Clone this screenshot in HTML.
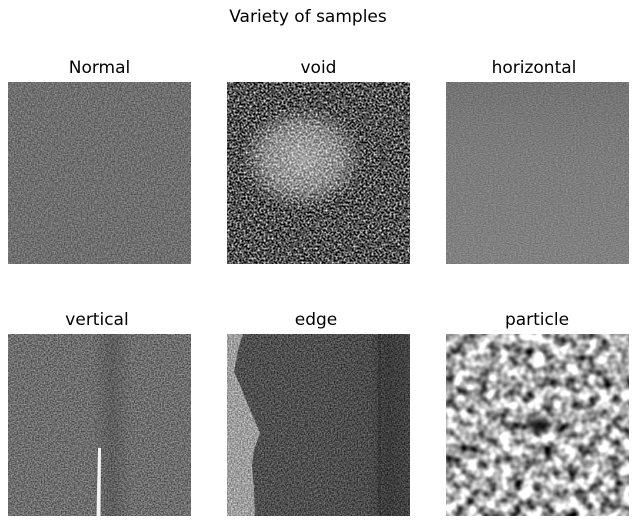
<!DOCTYPE html>
<html><head><meta charset="utf-8"><style>
html,body{margin:0;padding:0;background:#fff;}
svg{display:block;}
text{font-family:"DejaVu Sans","Liberation Sans",sans-serif;fill:#000;}
filter{color-interpolation-filters:sRGB;}
</style></head><body>
<svg width="636" height="525" viewBox="0 0 636 525">
<defs>
 <filter id="fNormal" x="0" y="0" width="100%" height="100%" color-interpolation-filters="sRGB">
  <feTurbulence type="fractalNoise" baseFrequency="0.7" numOctaves="1" seed="3"/>
  <feColorMatrix values="0.55 0 0 0 0.16  0.55 0 0 0 0.16  0.55 0 0 0 0.16  0 0 0 0 1"/>
 </filter>
 <filter id="fVoid" x="0" y="0" width="100%" height="100%" color-interpolation-filters="sRGB">
  <feTurbulence type="fractalNoise" baseFrequency="0.5" numOctaves="2" seed="7"/>
  <feColorMatrix values="2.0 0 0 0 -0.68  2.0 0 0 0 -0.68  2.0 0 0 0 -0.68  0 0 0 0 1"/>
 </filter>
 <filter id="fHoriz" x="0" y="0" width="100%" height="100%" color-interpolation-filters="sRGB">
  <feTurbulence type="fractalNoise" baseFrequency="0.6 0.9" numOctaves="1" seed="11"/>
  <feColorMatrix values="0.35 0 0 0 0.3  0.35 0 0 0 0.3  0.35 0 0 0 0.3  0 0 0 0 1"/>
 </filter>
 <filter id="fVert" x="0" y="0" width="100%" height="100%" color-interpolation-filters="sRGB">
  <feTurbulence type="fractalNoise" baseFrequency="0.7" numOctaves="1" seed="5"/>
  <feColorMatrix values="0.7 0 0 0 0.08  0.7 0 0 0 0.08  0.7 0 0 0 0.08  0 0 0 0 1"/>
 </filter>
 <filter id="fEdgeDark" x="0" y="0" width="100%" height="100%" color-interpolation-filters="sRGB">
  <feTurbulence type="fractalNoise" baseFrequency="0.7" numOctaves="1" seed="9"/>
  <feColorMatrix values="0.7 0 0 0 -0.04  0.7 0 0 0 -0.04  0.7 0 0 0 -0.04  0 0 0 0 1"/>
 </filter>
 <filter id="fEdgeLight" x="0" y="0" width="100%" height="100%" color-interpolation-filters="sRGB">
  <feTurbulence type="fractalNoise" baseFrequency="0.7" numOctaves="1" seed="13"/>
  <feColorMatrix values="0.8 0 0 0 0.22  0.8 0 0 0 0.22  0.8 0 0 0 0.22  0 0 0 0 1"/>
 </filter>
 <filter id="fPart" x="0" y="0" width="100%" height="100%" color-interpolation-filters="sRGB">
  <feTurbulence type="fractalNoise" baseFrequency="0.09" numOctaves="2" seed="21"/>
  <feColorMatrix values="1.9 0 0 0 -0.28  1.9 0 0 0 -0.28  1.9 0 0 0 -0.28  0 0 0 0 1"/>
 </filter>
 <radialGradient id="gVoid"><stop offset="0" stop-color="#fff" stop-opacity="0.5"/><stop offset="0.6" stop-color="#fff" stop-opacity="0.35"/><stop offset="1" stop-color="#fff" stop-opacity="0"/></radialGradient>
 <radialGradient id="gDark"><stop offset="0" stop-color="#000" stop-opacity="0.95"/><stop offset="1" stop-color="#000" stop-opacity="0"/></radialGradient>
 <linearGradient id="gHoriz" x1="0" y1="0" x2="0" y2="1"><stop offset="0" stop-color="#000" stop-opacity="0.05"/><stop offset="0.5" stop-color="#fff" stop-opacity="0.03"/><stop offset="1" stop-color="#fff" stop-opacity="0.06"/></linearGradient>
 <linearGradient id="gVband" x1="0" y1="0" x2="1" y2="0"><stop offset="0" stop-color="#000" stop-opacity="0"/><stop offset="0.5" stop-color="#000" stop-opacity="0.15"/><stop offset="1" stop-color="#000" stop-opacity="0"/></linearGradient>
 <linearGradient id="gEband" x1="0" y1="0" x2="1" y2="0"><stop offset="0" stop-color="#000" stop-opacity="0"/><stop offset="0.55" stop-color="#000" stop-opacity="0.05"/><stop offset="0.75" stop-color="#000" stop-opacity="0.25"/><stop offset="1" stop-color="#000" stop-opacity="0.15"/></linearGradient>
 <clipPath id="cVoid"><rect x="227" y="82" width="183" height="182"/></clipPath>
 <clipPath id="cPart"><rect x="446" y="334" width="183" height="182"/></clipPath>
 <clipPath id="cEdgeL"><path d="M227,334 L243,334 L238,350 L234,372 L240,385 L248,405 L260,433 L254,450 L252,465 L254,490 L255,516 L227,516 Z"/></clipPath>
</defs>

<text x="308" y="22" font-size="17" text-anchor="middle">Variety of samples</text>

<g>
 <text x="99.5" y="73" font-size="17" text-anchor="middle">Normal</text>
 <rect x="8" y="82" width="183" height="182" filter="url(#fNormal)"/>
</g>

<g>
 <text x="318.5" y="73" font-size="17" text-anchor="middle">void</text>
 <rect x="227" y="82" width="183" height="182" filter="url(#fVoid)"/>
 <g clip-path="url(#cVoid)">
  <ellipse cx="302" cy="158" rx="62" ry="52" fill="url(#gVoid)"/>
 </g>
</g>

<g>
 <text x="534" y="73" font-size="17" text-anchor="middle">horizontal</text>
 <rect x="446" y="82" width="183" height="182" filter="url(#fHoriz)"/>
 <rect x="446" y="82" width="183" height="182" fill="url(#gHoriz)"/>
</g>

<g>
 <text x="97" y="325" font-size="17" text-anchor="middle">vertical</text>
 <rect x="8" y="334" width="183" height="182" filter="url(#fVert)"/>
 <rect x="92" y="334" width="40" height="182" fill="url(#gVband)"/>
 <path d="M98,448 L101,448 L100.5,516 L96.5,516 Z" fill="#f2f2f2"/>
</g>

<g>
 <text x="316" y="325" font-size="17" text-anchor="middle">edge</text>
 <rect x="227" y="334" width="183" height="182" filter="url(#fEdgeDark)"/>
 <rect x="320" y="334" width="90" height="182" fill="url(#gEband)"/>
 <rect x="378" y="334" width="3" height="182" fill="#000" opacity="0.15"/>
 <rect x="227" y="334" width="40" height="182" filter="url(#fEdgeLight)" clip-path="url(#cEdgeL)"/>
</g>

<g>
 <text x="537" y="325" font-size="17" text-anchor="middle">particle</text>
 <rect x="446" y="334" width="183" height="182" filter="url(#fPart)"/>
 <g clip-path="url(#cPart)">
  <ellipse cx="539" cy="424" rx="18" ry="13" fill="url(#gDark)"/>
 </g>
</g>
</svg>
</body></html>
